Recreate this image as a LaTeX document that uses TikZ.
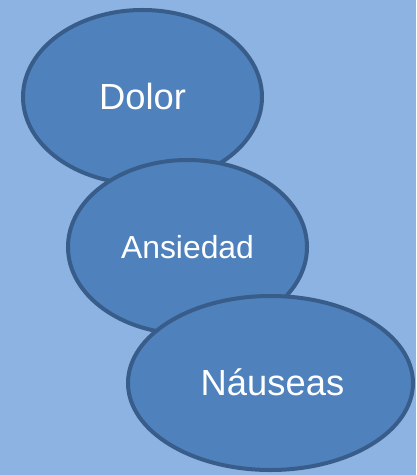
\documentclass[tikz,border=0pt]{standalone}
\usepackage{fontspec}
\setmainfont{Liberation Sans}
\usetikzlibrary{shapes.geometric}
\definecolor{bgblue}{HTML}{8DB3E2}
\definecolor{bubblefill}{HTML}{4F81BD}
\definecolor{bubbleline}{HTML}{385D8A}
\tikzset{
  bubble/.style={ellipse, draw=bubbleline, fill=bubblefill, line width=4bp,
    inner sep=0pt, outer sep=0pt, text=white}
}
\begin{document}
\begin{tikzpicture}[x=1bp, y=-1bp]
  \fill[bgblue] (0,0) rectangle (416,475);
  \useasboundingbox (0,0) rectangle (416,475);
  \node[bubble, minimum width=239bp, minimum height=174bp,
        font=\fontsize{36.5}{40}\selectfont] (dolor) at (142.5,97) {Dolor};
  \node[bubble, minimum width=239bp, minimum height=174bp,
        font=\fontsize{32}{36}\selectfont] (ansiedad) at (187.5,247) {Ansiedad};
  \node[bubble, minimum width=285bp, minimum height=174bp] (nauseas) at (270.5,383) {};
  \node[text=white, inner sep=0pt, font=\fontsize{36.5}{40}\selectfont]
        (nauseaslabel) at (272.5,382) {Náuseas};
\end{tikzpicture}
\end{document}
